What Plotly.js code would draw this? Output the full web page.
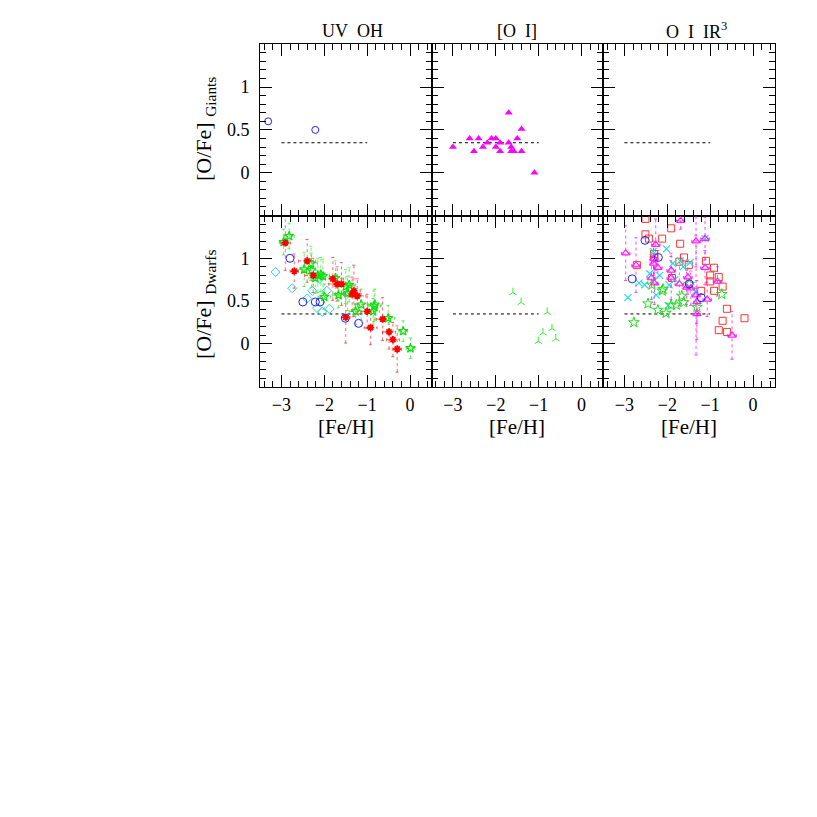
<!DOCTYPE html>
<html>
<head>
<meta charset="utf-8">
<script src="https://cdn.plot.ly/plotly-3.0.1.min.js"></script>
<style>
  html, body { margin: 0; padding: 0; background: #fff; }
  #plot { width: 817px; height: 817px; }
</style>
</head>
<body>
<div id="plot"></div>
<script>
// column titles and row labels
const colTitles = ['UV&nbsp;&nbsp;OH', '[O&nbsp;&nbsp;I]', 'O&nbsp;&nbsp;I&nbsp;&nbsp;IR<sup>3</sup>'];
const rowLabels = ['[O/Fe]&nbsp;<sub>Giants</sub>', '[O/Fe]&nbsp;<sub>Dwarfs</sub>'];
const xTicks = [-3, -2, -1, 0];
const yTicks = [0, 0.5, 1];

// reference level drawn in every panel
const refX = [-3, -1];
const refY = [0.35, 0.35];

// giants, UV OH
const giUvX = [-3.31, -2.21];
const giUvY = [0.60, 0.50];

// giants, [O I]
const giOiX = [-3.00, -2.61, -2.40, -2.51, -2.30, -2.20, -2.10, -2.00, -2.00, -1.90,
               -1.90, -1.70, -1.70, -1.64, -1.64, -1.58, -1.50, -1.40, -1.40, -1.10];
const giOiY = [0.30, 0.40, 0.40, 0.25, 0.30, 0.35, 0.40, 0.40, 0.30, 0.35,
               0.25, 0.70, 0.35, 0.30, 0.25, 0.25, 0.40, 0.51, 0.25, 0.00];

// dwarfs, UV OH
const dwUvCircX = [-2.80, -2.50, -2.21, -2.10, -1.51, -1.20];
const dwUvCircY = [1.00, 0.49, 0.49, 0.49, 0.30, 0.24];

const dwUvDiaX = [-3.14, -2.75, -2.40, -2.28, -2.12, -2.17, -2.05, -1.94, -1.88];
const dwUvDiaY = [0.84, 0.65, 0.53, 0.62, 0.76, 0.42, 0.375, 0.62, 0.41];

const dwUvRedX = [-2.91, -2.70, -2.40, -2.26, -1.80, -1.70, -1.60, -1.31, -1.23,
                  -1.35, -1.50, -1.00, -0.92, -0.64, -0.49, -0.40, -0.30];
const dwUvRedY = [1.18, 0.85, 0.97, 0.80, 0.76, 0.70, 0.70, 0.62, 0.56,
                  0.58, 0.31, 0.38, 0.19, 0.29, 0.14, 0.05, -0.06];
const dwUvRedEx = [0.12, 0.10, 0.20, 0.20, 0.25, 0.20, 0.20, 0.15, 0.20,
                   0.20, 0.10, 0.15, 0.15, 0.15, 0.15, 0.15, 0.10];
const dwUvRedEy = [0.32, 0.20, 0.25, 0.20, 0.25, 0.20, 0.25, 0.30, 0.20,
                   0.20, 0.30, 0.20, 0.20, 0.25, 0.20, 0.20, 0.27];

const dwUvGrnX = [-2.95, -2.82, -2.47, -2.31, -2.30, -2.21, -2.15, -2.08, -2.03, -2.00,
                  -1.74, -1.67, -1.50, -1.42, -1.46, -1.27, -1.14, -0.84, -0.86, -0.82,
                  -0.51, -0.16, 0.01];
const dwUvGrnY = [1.19, 1.26, 0.87, 0.94, 0.86, 0.77, 0.80, 0.81, 0.79, 0.55,
                  0.77, 0.57, 0.67, 0.69, 0.59, 0.38, 0.46, 0.44, 0.38, 0.46,
                  0.30, 0.15, -0.05];
const dwUvGrnEx = [0.10, 0.12, 0.15, 0.15, 0.20, 0.15, 0.15, 0.20, 0.15, 0.15,
                   0.15, 0.15, 0.20, 0.15, 0.15, 0.15, 0.15, 0.15, 0.15, 0.15,
                   0.15, 0.10, 0.10];
const dwUvGrnEy = [0.15, 0.15, 0.20, 0.20, 0.20, 0.18, 0.20, 0.20, 0.20, 0.15,
                   0.20, 0.15, 0.20, 0.20, 0.20, 0.15, 0.18, 0.18, 0.15, 0.18,
                   0.15, 0.12, 0.12];

// dwarfs, [O I]
const dwOiX = [-1.60, -1.41, -0.80, -0.69, -0.90, -0.60, -1.01];
const dwOiY = [0.60, 0.485, 0.37, 0.18, 0.13, 0.06, 0.03];

// dwarfs, O I IR
const dwIrSqX = [-2.51, -2.51, -2.43, -2.12, -1.91, -1.70, -2.31, -2.30, -2.71, -1.61,
                 -1.50, -1.72, -1.89, -1.10, -0.91, -1.00, -0.80, -1.00, -0.71, -0.91,
                 -1.21, -0.61, -0.71, -0.80, -0.61, -0.20];
const dwIrSqY = [1.46, 1.28, 1.23, 1.23, 1.35, 1.17, 1.05, 1.01, 0.92, 1.01,
                 0.92, 0.96, 0.77, 0.97, 0.89, 0.80, 0.78, 0.73, 0.67, 0.62,
                 0.62, 0.41, 0.27, 0.16, 0.14, 0.30];

const dwIrTriX = [-1.69, -2.97, -2.27, -2.73, -2.32, -2.32, -2.22, -2.37, -2.30, -1.91,
                  -1.91, -1.72, -1.52, -1.55, -1.45, -1.33, -1.12, -1.12, -1.33, -1.31,
                  -1.07, -0.83, -0.49, -1.31];
const dwIrTriY = [1.44, 1.06, 1.16, 0.92, 1.00, 0.94, 0.89, 0.77, 0.71, 0.86,
                  0.77, 0.70, 0.78, 0.66, 0.65, 1.20, 1.23, 0.89, 0.57, 0.49,
                  0.52, 0.73, 0.10, 0.35];
const dwIrTriEx = [0.10, 0.10, 0.10, 0.10, 0.08, 0.08, 0.10, 0.10, 0.08, 0.10,
                   0.10, 0.10, 0.10, 0.08, 0.08, 0.10, 0.10, 0.10, 0.10, 0.08,
                   0.10, 0.10, 0.10, 0.08];
const dwIrTriEy = [0.10, 0.32, 0.30, 0.32, 0.20, 0.20, 0.20, 0.25, 0.25, 0.20,
                   0.25, 0.25, 0.20, 0.20, 0.20, 0.30, 0.25, 0.20, 0.70, 0.25,
                   0.20, 0.17, 0.28, 0.30];

const dwIrCrossX = [-2.92, -2.66, -2.53, -2.41, -2.33, -2.02, -2.18, -2.26, -1.96,
                    -1.87, -1.63, -1.47, -1.98, -1.70, -1.82, -1.35, -1.12];
const dwIrCrossY = [0.54, 0.71, 0.69, 0.82, 1.08, 1.11, 0.80, 0.57, 0.69,
                    0.94, 0.90, 0.95, 0.45, 0.97, 0.75, 0.61, 1.23];

const dwIrCircX = [-2.52, -2.82, -2.21, -1.49, -1.21];
const dwIrCircY = [1.21, 0.76, 1.01, 0.70, 0.54];

const dwIrStarX = [-2.78, -2.45, -2.22, -2.03, -2.10, -2.36, -1.91, -1.79, -1.66, -1.62,
                   -1.49, -1.31, -0.73, -2.12];
const dwIrStarY = [0.25, 0.47, 0.395, 0.36, 0.64, 0.69, 0.455, 0.455, 0.56, 0.485,
                   0.70, 0.43, 0.58, 0.62];

const W = 817, H = 817;
const colPx = [[260, 431.5], [431.5, 603], [603, 774.5]];
const rowPx = [[44.3, 215.5], [215.5, 386.7]];
const FONT = 'Liberation Serif';

// dotted error bars as line segments with small caps
function errSegs (xs, ys, exs, eys) {
  const capX = 0.04, capY = 0.02;
  const x = [], y = [];
  xs.forEach((xv, i) => {
    const yv = ys[i];
    if (eys[i]) {
      x.push(xv, xv, null, xv - capX, xv + capX, null, xv - capX, xv + capX, null);
      y.push(yv - eys[i], yv + eys[i], null, yv - eys[i], yv - eys[i], null, yv + eys[i], yv + eys[i], null);
    }
    if (exs[i]) {
      x.push(xv - exs[i], xv + exs[i], null, xv - exs[i], xv - exs[i], null, xv + exs[i], xv + exs[i], null);
      y.push(yv, yv, null, yv - capY, yv + capY, null, yv - capY, yv + capY, null);
    }
  });
  return { x, y };
}

function axId (n, letter) {
  return n === 1 ? letter : letter + n;
}

function pts (n, x, y, symbol, color, size, lw) {
  return {
    type: 'scatter', mode: 'markers', x, y,
    xaxis: axId(n, 'x'), yaxis: axId(n, 'y'),
    marker: { symbol, size, color, line: { color, width: lw } },
    hoverinfo: 'skip'
  };
}

function errTrace (n, seg, color) {
  return {
    type: 'scatter', mode: 'lines', x: seg.x, y: seg.y,
    xaxis: axId(n, 'x'), yaxis: axId(n, 'y'),
    line: { color, width: 1, dash: 'dot' },
    connectgaps: false, hoverinfo: 'skip'
  };
}

const data = [];
for (let n = 1; n <= 6; n++) {
  data.push({
    type: 'scatter', mode: 'lines', x: refX, y: refY,
    xaxis: axId(n, 'x'), yaxis: axId(n, 'y'),
    line: { color: '#000', width: 1, dash: 'dot' }, hoverinfo: 'skip'
  });
}

data.push(pts(1, giUvX, giUvY, 'circle-open', '#2222ff', 7, 1));
data.push(pts(2, giOiX, giOiY, 'triangle-up', '#ff00ff', 7, 0));

data.push(errTrace(4, errSegs(dwUvRedX, dwUvRedY, dwUvRedEx, dwUvRedEy), 'rgba(255,0,0,0.6)'));
data.push(errTrace(4, errSegs(dwUvGrnX, dwUvGrnY, dwUvGrnEx, dwUvGrnEy), 'rgba(0,230,0,0.6)'));
data.push(pts(4, dwUvDiaX, dwUvDiaY, 'diamond-open', '#22dddd', 7, 1));
data.push(pts(4, dwUvCircX, dwUvCircY, 'circle-open', '#2222ff', 8, 1));
data.push(pts(4, dwUvGrnX, dwUvGrnY, 'star-open', '#11dd11', 7, 1.2));
data.push(pts(4, dwUvRedX, dwUvRedY, 'asterisk-open', '#ff0000', 6, 1.8));

data.push(pts(5, dwOiX, dwOiY, 'y-up', '#33ee33', 6, 1));

data.push(errTrace(6, errSegs(dwIrTriX, dwIrTriY, dwIrTriEx, dwIrTriEy), 'rgba(255,0,255,0.7)'));
data.push(pts(6, dwIrSqX, dwIrSqY, 'square-open', '#ff3333', 7, 1));
data.push(pts(6, dwIrCrossX, dwIrCrossY, 'x-thin-open', '#22dddd', 7, 1.2));
data.push(pts(6, dwIrStarX, dwIrStarY, 'star-open', '#22dd22', 8, 1));
data.push(pts(6, dwIrTriX, dwIrTriY, 'triangle-up-open', '#ff22ff', 7, 1.2));
data.push(pts(6, dwIrCircX, dwIrCircY, 'circle-open', '#2222ff', 8, 1));

const layout = {
  width: W, height: H,
  margin: { l: 0, r: 0, t: 0, b: 0 },
  paper_bgcolor: '#fff', plot_bgcolor: '#fff',
  showlegend: false,
  font: { family: FONT, color: '#000', size: 18 },
  annotations: []
};

for (let n = 1; n <= 6; n++) {
  const col = (n - 1) % 3;
  const row = Math.floor((n - 1) / 3);
  const xa = {
    domain: [colPx[col][0] / W, colPx[col][1] / W],
    range: [-3.5, 0.5],
    anchor: axId(n, 'y'),
    tickvals: xTicks,
    ticks: 'inside', ticklen: 12, tickwidth: 1, tickcolor: '#000',
    minor: { dtick: 0.2, tick0: 0, ticks: 'inside', ticklen: 6, tickcolor: '#000', tickwidth: 1 },
    showline: true, linecolor: '#000', linewidth: 1, mirror: 'allticks',
    showgrid: false, zeroline: false,
    showticklabels: row === 1,
    ticklabelstandoff: 2,
    tickfont: { family: FONT, size: 18 }
  };
  const ya = {
    domain: [1 - rowPx[row][1] / H, 1 - rowPx[row][0] / H],
    range: [-0.5, 1.5],
    anchor: axId(n, 'x'),
    tickvals: yTicks,
    ticks: 'inside', ticklen: 12, tickwidth: 1, tickcolor: '#000',
    minor: { dtick: 0.1, tick0: 0, ticks: 'inside', ticklen: 6, tickcolor: '#000', tickwidth: 1 },
    showline: true, linecolor: '#000', linewidth: 1, mirror: 'allticks',
    showgrid: false, zeroline: false,
    showticklabels: col === 0,
    ticklabelstandoff: 6,
    tickfont: { family: FONT, size: 18 }
  };
  layout[n === 1 ? 'xaxis' : 'xaxis' + n] = xa;
  layout[n === 1 ? 'yaxis' : 'yaxis' + n] = ya;
}

colTitles.forEach((t, i) => {
  layout.annotations.push({
    text: t, xref: 'paper', yref: 'paper', showarrow: false,
    x: (colPx[i][0] + colPx[i][1]) / 2 / W + (i === 0 ? 7 : i === 2 ? 8 : 0) / W,
    y: 1 - 31 / H, xanchor: 'center', yanchor: 'middle',
    font: { family: FONT, size: 18 }
  });
  layout.annotations.push({
    text: '[Fe/H]', xref: 'paper', yref: 'paper', showarrow: false,
    x: (colPx[i][0] + colPx[i][1]) / 2 / W, y: 1 - 427 / H,
    xanchor: 'center', yanchor: 'middle',
    font: { family: FONT, size: 21 }
  });
});

rowLabels.forEach((t, i) => {
  layout.annotations.push({
    text: t, xref: 'paper', yref: 'paper', showarrow: false,
    x: 205 / W, y: 1 - (i === 0 ? 129 : 305) / H,
    xanchor: 'center', yanchor: 'middle', textangle: -90,
    font: { family: FONT, size: 22 }
  });
});

Plotly.newPlot('plot', data, layout, { staticPlot: true, displayModeBar: false });
</script>
</body>
</html>
